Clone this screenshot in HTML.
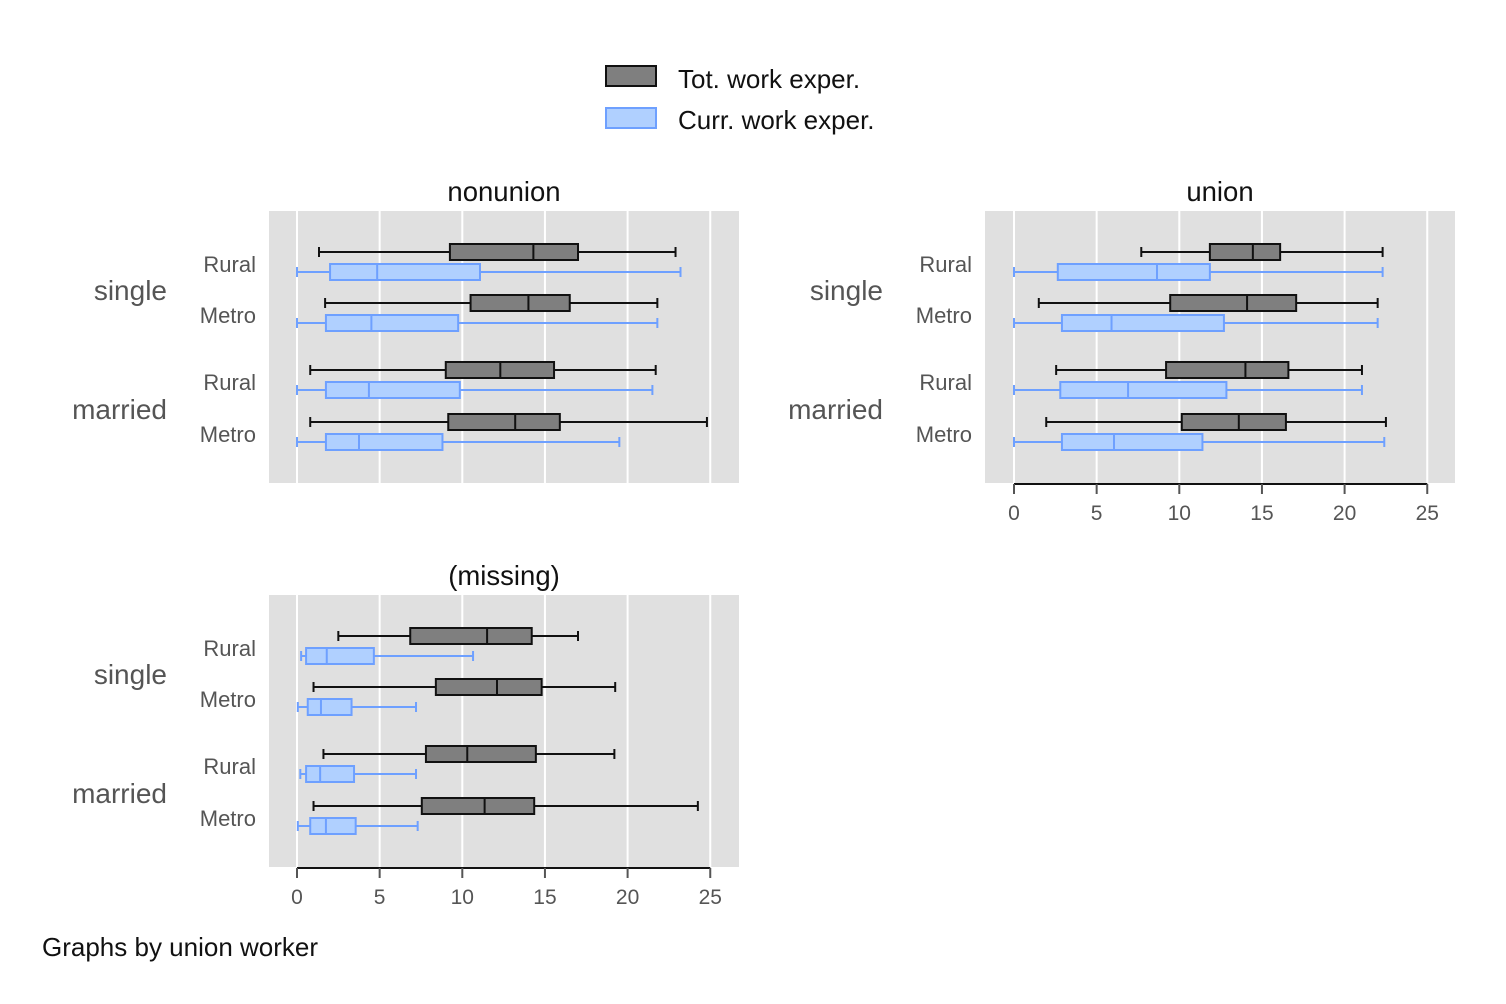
<!DOCTYPE html>
<html><head><meta charset="utf-8">
<style>
body{margin:0;background:#fff;}
svg{display:block;font-family:"Liberation Sans",sans-serif;}
</style></head>
<body>
<svg id="chart" width="1506" height="1004" viewBox="0 0 1506 1004">
<g>
  <rect x="606" y="66" width="50" height="20" fill="#7f7f7f" stroke="#111" stroke-width="2"/>
  <text x="678" y="88" font-size="26" fill="#111">Tot. work exper.</text>
  <rect x="606" y="108" width="50" height="20" fill="#b0d0ff" stroke="#6ea0ff" stroke-width="2"/>
  <text x="678" y="129" font-size="26" fill="#111">Curr. work exper.</text>
</g>
<text x="42" y="956" font-size="26" fill="#111">Graphs by union worker</text>
</svg>
<script>
const panels = ["nonunion","union","(missing)"];
const rowLabels = ["single Rural","single Metro","married Rural","married Metro"];
const ticks = [0,5,10,15,20,25];
// [whiskerLo, q1, median, q3, whiskerHi]
const totNonunion = [[1.33,9.25,14.3,17.0,22.9],[1.7,10.5,14.0,16.5,21.8],[0.8,9.0,12.3,15.55,21.7],[0.8,9.15,13.2,15.9,24.8]];
const curNonunion = [[0,2.0,4.85,11.07,23.2],[0,1.75,4.5,9.75,21.8],[0,1.75,4.35,9.85,21.5],[0,1.75,3.75,8.8,19.5]];
const totUnion = [[7.7,11.85,14.45,16.1,22.3],[1.5,9.45,14.1,17.07,22.0],[2.55,9.2,14.0,16.6,21.05],[1.95,10.15,13.6,16.45,22.5]];
const curUnion = [[0,2.65,8.65,11.85,22.3],[0,2.9,5.9,12.7,22.0],[0,2.8,6.9,12.85,21.05],[0,2.9,6.05,11.4,22.4]];
const totMissing = [[2.5,6.85,11.5,14.2,17.0],[1.0,8.4,12.1,14.8,19.25],[1.6,7.8,10.3,14.45,19.2],[1.0,7.55,11.35,14.35,24.25]];
const curMissing = [[0.25,0.55,1.8,4.65,10.65],[0.05,0.65,1.45,3.3,7.2],[0.2,0.55,1.4,3.45,7.2],[0.05,0.8,1.75,3.55,7.3]];

const NS="http://www.w3.org/2000/svg";
const svg=document.getElementById('chart');
function mk(tag,attrs,parent){const e=document.createElementNS(NS,tag);for(const k in attrs)e.setAttribute(k,attrs[k]);(parent||svg).appendChild(e);return e;}
const layout=[{x:269,y:211,axis:false,x0:297},{x:985,y:211,axis:true,x0:1014},{x:269,y:595,axis:true,x0:297}];
const tot=[totNonunion,totUnion,totMissing], cur=[curNonunion,curUnion,curMissing];
const rowOff=[41,92,159,211];
layout.forEach((L,p)=>{
  const g=mk('g',{});
  
  
  const x0=L.x0, scale=16.53;
  const sx=v=>x0+v*scale;
  const bg=mk('rect',{x:L.x,y:L.y,width:470,height:272,fill:'#e0e0e0'},g);
  
  
  ticks.forEach(t=>{
    const gl=mk('line',{x1:sx(t),x2:sx(t),y1:L.y,y2:L.y+272,stroke:'#fff','stroke-width':2},g);
    
    
  });
  const title=mk('text',{x:L.x+235,y:L.y-10,'text-anchor':'middle','font-size':27.5,fill:'#111'},g);
  title.textContent=panels[p];
  
  
  [['single',80],['married',199]].forEach(([s,dy])=>{
    const t=mk('text',{x:L.x-102,y:L.y+dy+9,'text-anchor':'end','font-size':28,fill:'#555'},g);
    t.textContent=s;
    
    
  });
  rowOff.forEach((ro,r)=>{
    const t=mk('text',{x:L.x-13,y:L.y+ro+20,'text-anchor':'end','font-size':22,fill:'#555'},g);
    t.textContent=rowLabels[r].split(' ')[1];
    
    
    [[tot[p][r],0,'#7f7f7f','#111'],[cur[p][r],20,'#b0d0ff','#6ea0ff']].forEach(([d,off,fill,stroke],k)=>{
      const cy=L.y+ro+off;
      const bx=mk('g',{},g);
      
      
      mk('line',{x1:sx(d[0]),x2:sx(d[1]),y1:cy,y2:cy,stroke,'stroke-width':2},bx);
      mk('line',{x1:sx(d[3]),x2:sx(d[4]),y1:cy,y2:cy,stroke,'stroke-width':2},bx);
      mk('line',{x1:sx(d[0]),x2:sx(d[0]),y1:cy-5,y2:cy+5,stroke,'stroke-width':2},bx);
      mk('line',{x1:sx(d[4]),x2:sx(d[4]),y1:cy-5,y2:cy+5,stroke,'stroke-width':2},bx);
      mk('rect',{x:sx(d[1]),y:cy-8,width:sx(d[3])-sx(d[1]),height:16,fill,stroke,'stroke-width':2},bx);
      mk('line',{x1:sx(d[2]),x2:sx(d[2]),y1:cy-8,y2:cy+8,stroke,'stroke-width':2},bx);
    });
  });
  if(L.axis){
    const ax=mk('g',{},g);
    
    
    const ay=L.y+273;
    mk('line',{x1:sx(0),x2:sx(25),y1:ay,y2:ay,stroke:'#111','stroke-width':2},ax);
    ticks.forEach(t=>{
      mk('line',{x1:sx(t),x2:sx(t),y1:ay,y2:ay+10,stroke:'#555','stroke-width':2},ax);
      const tl=mk('text',{x:sx(t),y:ay+36,'text-anchor':'middle','font-size':21,fill:'#555'},ax);
      tl.textContent=t;
      
      
    });
  }
});
</script>
</body></html>
